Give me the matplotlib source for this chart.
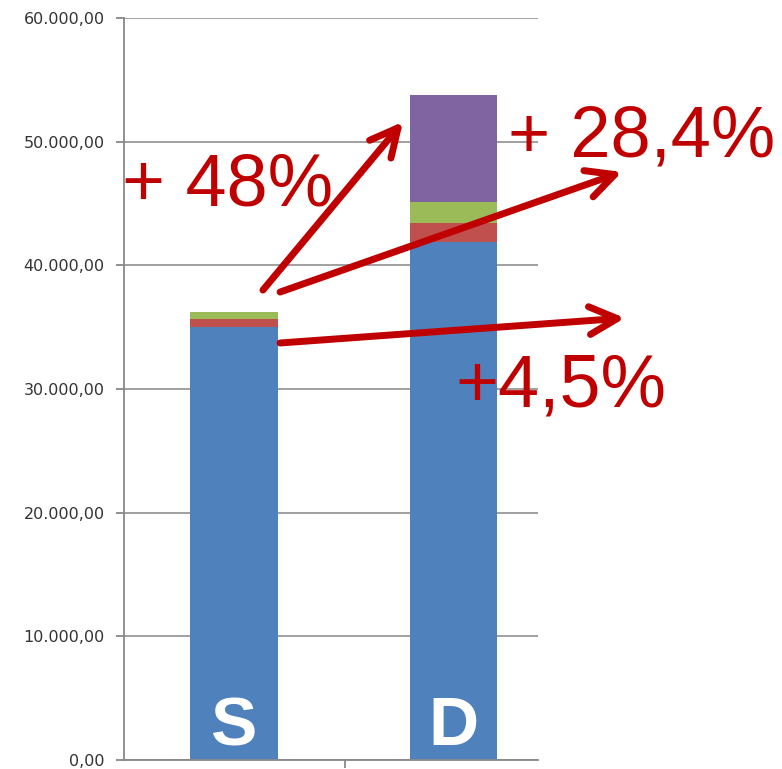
import matplotlib.pyplot as plt
from matplotlib.ticker import FuncFormatter

categories = ['S', 'D']
blue = [35000, 41900]
red = [640, 1550]
green = [560, 1690]
purple = [0, 8630]

colors = ['#4F81BD', '#C0504D', '#9BBB59', '#8064A2']
arrow_red = '#C00000'

fig = plt.figure(figsize=(7.82, 7.69), dpi=100)
ax = fig.add_axes([124 / 782, 9 / 769, 414 / 782, 742 / 769])

x = [0, 1]
bottom = [0, 0]
for vals, c in zip([blue, red, green, purple], colors):
    ax.bar(x, vals, width=0.40, bottom=bottom, color=c, zorder=2)
    bottom = [b + v for b, v in zip(bottom, vals)]

ax.set_ylim(0, 60000)
ax.set_xlim(-0.501, 1.385)
ax.set_yticks(range(0, 60001, 10000))
ax.yaxis.set_major_formatter(FuncFormatter(
    lambda v, p: '{:,.2f}'.format(v).replace(',', 'X').replace('.', ',').replace('X', '.')))
ax.yaxis.grid(True, color='#999999', linewidth=1.3, zorder=0)
ax.set_xticks([0.506])
ax.set_xticklabels([])
ax.tick_params(axis='y', labelsize=11.5, labelcolor='#333333', color='#888888',
               length=6, width=1.3, pad=8)
ax.tick_params(axis='x', color='#888888', length=6, width=1.3)
for s in ['top', 'right']:
    ax.spines[s].set_visible(False)
for s in ['left', 'bottom']:
    ax.spines[s].set_color('#888888')
    ax.spines[s].set_linewidth(1.3)

for xi, lab in zip(x, categories):
    ax.text(xi, 1200, lab, color='white', fontsize=50, fontweight='bold',
            family='Liberation Sans', ha='center', va='baseline', zorder=3)

arrows = [((0.132, 38000), (0.770, 51600)),
          ((0.210, 37840), (1.768, 47550)),
          ((0.210, 33720), (1.781, 35740))]
for start, end in arrows:
    ax.annotate('', xy=end, xytext=start, annotation_clip=False, zorder=4,
                arrowprops=dict(arrowstyle='->,head_length=2.0,head_width=1.0',
                                color=arrow_red, lw=5, shrinkA=0, shrinkB=0))

fig.text(122 / 782, 1 - 205 / 769, '+ 48%', color=arrow_red, fontsize=53,
         family='Liberation Sans', ha='left', va='baseline')
fig.text(508 / 782, 1 - 156 / 769, '+ 28,4%', color=arrow_red, fontsize=52,
         family='Liberation Sans', ha='left', va='baseline')
fig.text(455 / 782, 1 - 406 / 769, '+4,5%', color=arrow_red, fontsize=53,
         family='Liberation Sans', ha='left', va='baseline')

fig.savefig('out.png', dpi=100)
